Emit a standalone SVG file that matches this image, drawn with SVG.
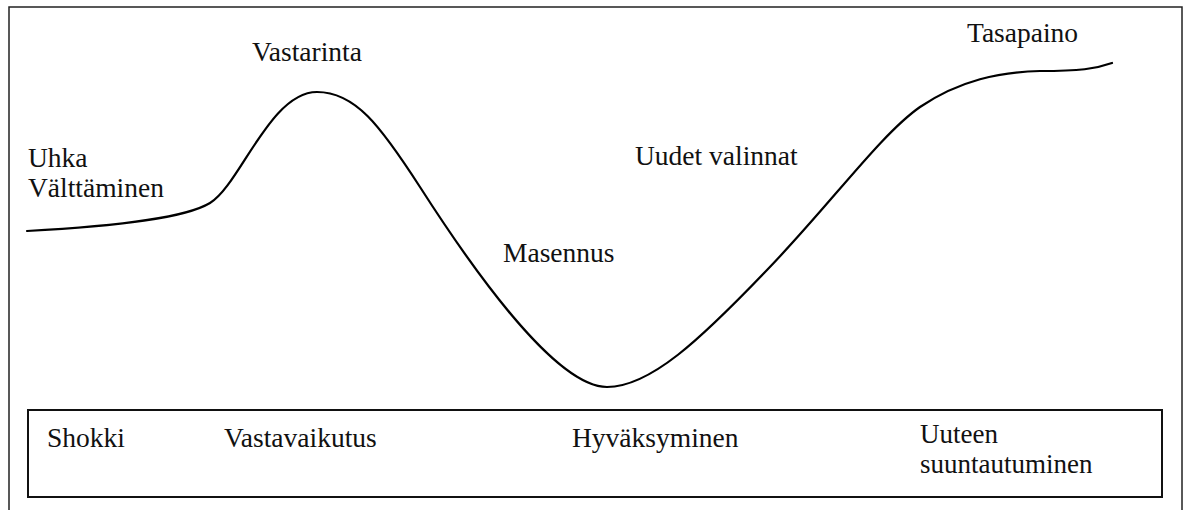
<svg xmlns="http://www.w3.org/2000/svg" width="1189" height="510" viewBox="0 0 1189 510">
<style>
.frame{fill:none;stroke:#222;stroke-width:1.5}
.box{fill:#fff;stroke:#111;stroke-width:2}
.curve{fill:none;stroke:#000;stroke-width:2.2;stroke-linecap:round}
</style>
<rect width="1189" height="510" fill="#fff"/>
<g id="frame"><rect class="frame" x="9" y="7" width="1173" height="510"/></g>
<g id="connectors">
<path class="curve" d="M27,231 C120,226 185,218 210,203 C240,185 270,92 317,92 C355,92 380,125 420,187 C470,265 555,387 607,387 C650,387 700,340 767,270 C830,205 880,135 920,107 C960,80 1000,72 1040,71 C1080,71 1095,69 1112,63"/>
</g>
<g id="labels" fill="#111">
<text x="28" y="167" font-family="Liberation Serif" font-size="27.5">Uhka</text>
<text x="28" y="197" font-family="Liberation Serif" font-size="27.5">Välttäminen</text>
<text x="252" y="61" font-family="Liberation Serif" font-size="27.5">Vastarinta</text>
<text x="503" y="262" font-family="Liberation Serif" font-size="27.5">Masennus</text>
<text x="635" y="165" font-family="Liberation Serif" font-size="27.5">Uudet valinnat</text>
<text x="967" y="42" font-family="Liberation Serif" font-size="27.5">Tasapaino</text>
</g>
<g id="phases" fill="#111">
<rect class="box" x="28" y="410" width="1134" height="87"/>
<text x="47" y="447" font-family="Liberation Serif" font-size="27.5">Shokki</text>
<text x="224" y="447" font-family="Liberation Serif" font-size="27.5">Vastavaikutus</text>
<text x="572" y="447" font-family="Liberation Serif" font-size="27.5">Hyväksyminen</text>
<text x="920" y="443" font-family="Liberation Serif" font-size="27">Uuteen</text>
<text x="920" y="473" font-family="Liberation Serif" font-size="27">suuntautuminen</text>
</g>
</svg>
